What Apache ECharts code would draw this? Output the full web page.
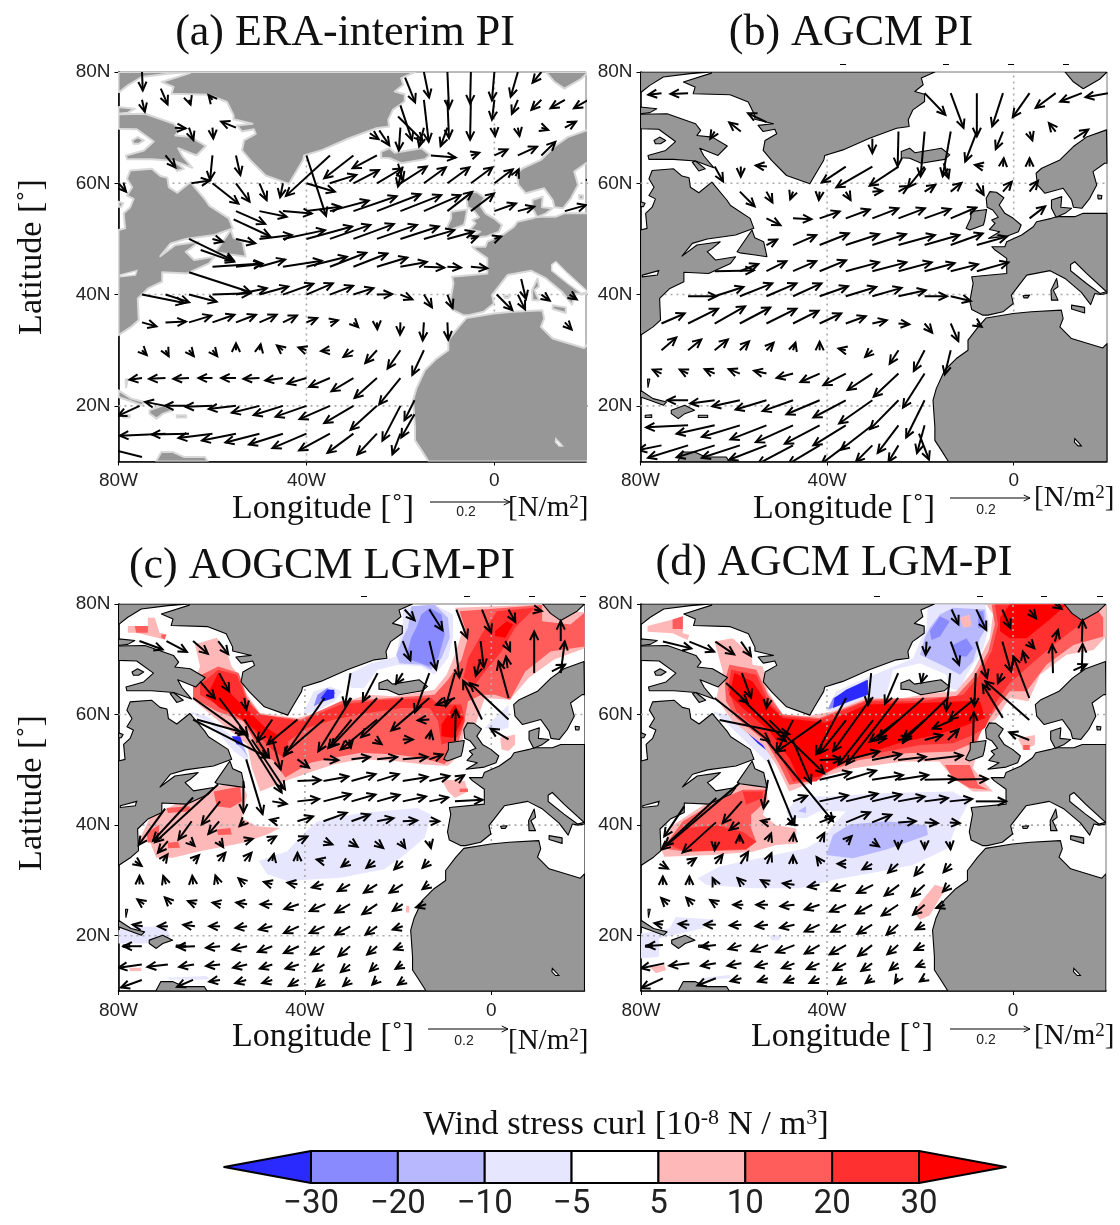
<!DOCTYPE html>
<html><head><meta charset="utf-8">
<script src="https://cdn.jsdelivr.net/npm/echarts@6/dist/echarts.min.js"></script>
<style>html,body{margin:0;padding:0;background:#fff}#c{width:1120px;height:1225px}</style></head>
<body><div id="c"></div>
<script>
// ---------- land outlines, [lon, lat] ----------
const greenland=[[-64.8,80],[-64.8,79.8],[-70.8,78.2],[-68.3,77.3],[-68.7,76.1],[-60.8,75.9],[-56.9,74.6],[-55.5,72.2],[-55.5,71.5],[-51.5,70.7],[-54.8,70.4],[-53.7,69.3],[-51.2,69.7],[-50.8,68.9],[-53.3,67.7],[-53.7,65.9],[-51.9,64.1],[-48.7,61.4],[-43.7,59.9],[-42.6,61.5],[-40.7,64.2],[-40.5,65],[-36.6,66],[-30.9,68.1],[-25.1,69.9],[-22.4,70.2],[-22.6,71.4],[-21.6,73.2],[-19.1,74.7],[-19.1,76],[-21.2,76.5],[-19.4,77.7],[-19.8,78.9],[-16.9,80]];
const ellesmere=[[-80,80],[-64.8,80],[-69.4,79.7],[-75.1,79.1],[-78,77.6],[-79.8,76.4],[-80,76.4]];
const devon=[[-80,73.7],[-76.5,73.4],[-78,72.7],[-80,72.5]];
const baffin=[[-80,72.4],[-74.3,72.5],[-68.2,70.7],[-67.1,69.5],[-67.9,68.6],[-64.6,68.3],[-61.4,66.7],[-63.4,65],[-67.3,66.3],[-66.4,64.9],[-64.3,62.8],[-68.2,64],[-72.9,64.3],[-78.2,64.3],[-78.4,65],[-74.6,65.9],[-72.5,67.5],[-76.1,69.7],[-80,69.8]];
const baffinIsle=[[-77.1,67.7],[-75.9,68.3],[-74.6,67.7],[-75.7,67.1],[-76.8,67.1]];
const baffinSouth=[[-68.9,63.8],[-68.2,64],[-66.1,62.6],[-67.5,62.2]];
const northAmerica=[[-77.5,62.3],[-72.9,62.6],[-71.1,61.3],[-69.6,61],[-69.3,59.3],[-67.5,58.3],[-64.7,60.2],[-61.5,57],[-60.7,56],[-56.5,53.7],[-55.7,51.9],[-59.6,50.7],[-65.7,50],[-68.9,49.2],[-71.1,46.9],[-67.9,48.9],[-62.9,49.5],[-64.6,48.3],[-65.7,47.7],[-63.9,46.2],[-59.6,46.8],[-60.7,45.6],[-65.4,43.8],[-70.7,44],[-70.7,42.3],[-73.7,41.1],[-75.9,39.3],[-75.7,35.4],[-77.3,34.2],[-80,32.7],[-80,51.6],[-78.6,51.9],[-78.9,54.6],[-77.5,55.7],[-76.8,57.2],[-78.2,57.8],[-77.1,59.3],[-78.2,60.8]];
const hudsonIsle=[[-80,56.7],[-79,56.4],[-79.4,55.8],[-80,55.8]];
const newfoundland=[[-59.3,47.7],[-56.1,51.6],[-55.5,50.2],[-53.6,49.5],[-52.9,46.8],[-55.4,47.1],[-58.7,47.5]];
const iceland=[[-24.1,65.7],[-22.3,66.3],[-21.2,65.5],[-15.5,66.3],[-13.7,65.1],[-14.8,64.3],[-19.8,63.6],[-22.3,64.5],[-24.1,64.6]];
const scandinavia=[[19.9,69.6],[15.6,68.3],[12.8,66.6],[9.9,64.2],[6,62.7],[4.8,61.8],[5.1,59.7],[6.7,58.2],[10.6,59.1],[12.4,57],[12.8,55.7],[14.6,55.5],[16.3,57.3],[17.8,59.7],[17,62.1],[19.5,63.6],[20,63.6]];
const denmark=[[8.1,57],[10.3,57.6],[10.1,55.7],[12.4,55.5],[11,54.6],[9.1,53.9],[8.1,55.5]];
const gotland=[[18,57.9],[18.9,57.8],[18.8,57.2],[18.1,57.2]];
const europe=[[20,54.6],[14.9,54.6],[13.1,54],[9.2,54],[8.1,53.7],[4.9,53.1],[4.2,52.2],[1.7,50.7],[-1.5,49.5],[-1.9,48.6],[-4.7,48.6],[-4,48],[-1.5,46.5],[-1.5,43.8],[-9,43.2],[-8.7,42],[-9.4,38.8],[-9,37.3],[-6.6,36.3],[-5.5,36.3],[-2.3,36.9],[-0.1,38.4],[-0.5,39.9],[2.8,43.5],[7.8,44.3],[11,42.9],[14.5,40.4],[16.5,38.2],[17.4,40.2],[18.6,40],[20,40.2]];
const sicily=[[12.4,38.1],[15.2,37.7],[15.2,36.7],[12.4,37.4]];
const sardinia=[[9.2,42.9],[9.5,41.4],[8.5,40.8],[9.5,39],[8.1,39],[8,40.8]];
const balearic=[[2,39.8],[3.4,39.9],[3,39.4],[2.2,39.4]];
const africa=[[-5.9,35.8],[-0.1,36.6],[3.8,36.9],[10.2,37.2],[10.6,35.7],[9.9,34.2],[12.4,32.1],[19.1,30.4],[20,31.2],[20,10],[-14,10],[-15.5,12],[-16.9,13.8],[-16.9,16.2],[-17.3,21],[-16.6,23.1],[-14.8,26.4],[-12.3,28.5],[-9.8,30],[-9.8,31.8],[-7.6,34.2]];
const britain=[[-5.9,57.3],[-5.1,58.5],[-3.7,58.4],[-2.1,57.4],[-3.1,56.1],[-1.9,54.6],[-0.1,53.7],[1.6,52.5],[1,51.3],[-1.5,50.5],[-5.4,50.1],[-3,51.3],[-5.2,51.7],[-4,52.8],[-4.7,53.4],[-3.3,53.9],[-4.5,55.2],[-5.7,55.7]];
const ireland=[[-10.2,51.9],[-9.2,53.7],[-9.2,54.9],[-5.8,55.3],[-6.2,53.4],[-6.5,52.5],[-9.4,51.6]];
const svalbard=[[11,80],[20,80],[18.4,78.7],[14.9,77],[12.7,78.3]];
const cuba=[[-80,22.8],[-77.3,21.3],[-74.4,20.7],[-75.1,20.1],[-78,21],[-80,21.6]];
const hispaniola=[[-73.4,19.2],[-70.5,20.1],[-68.4,19.2],[-70.5,18.6],[-71.9,17.7],[-73.4,18.6]];
const jamaica=[[-79,18.3],[-77.6,18.4],[-77.6,17.9],[-79,17.9]];
const puertoRico=[[-67.6,18.3],[-65.6,18.3],[-65.6,17.9],[-67.6,17.9]];
const bahamas=[[-78.5,24.8],[-78,24.8],[-78.4,23.3]];
const southAmerica=[[-72,10],[-70.9,11.7],[-68.4,11.7],[-66,10.8],[-61.6,10.8],[-61,10]];
const landList=[greenland,ellesmere,devon,baffin,baffinSouth,northAmerica,newfoundland,iceland,scandinavia,europe,denmark,gotland,sicily,sardinia,balearic,africa,britain,ireland,svalbard,cuba,hispaniola,jamaica,puertoRico,bahamas,southAmerica,hudsonIsle,baffinIsle];
const adriatic=[[12.2,45.4],[13.1,45.9],[15.6,43.8],[19.9,40.5],[18.5,40.2],[15.6,42],[12.2,44.3]];
const lakeChad=[[13.1,14.1],[14,13.3],[14.5,12.8],[13.8,12.8],[13,13.5]];
const greatLake=[[-79.6,43.5],[-76.1,44.3],[-76.4,43.5],[-79.6,43.2]];
const waterList=[adriatic,lakeChad,greatLake];

// ---------- wind stress curl contours: [level in 1e-8 N/m3, outline] ----------
const curlC=[
[-7,[[-19,79.3],[-12.2,79.9],[-8.2,78.1],[-8.2,73.9],[-9.3,70.2],[-12.2,67.2],[-15,68.7],[-20,69],[-24.4,68.1],[-27.3,64.8],[-30.1,64.8],[-30.9,67.2],[-25.8,69.3],[-20.4,70.5],[-19.7,73.9],[-19,75.7]]],
[-15,[[-17.2,79.6],[-12.2,79.9],[-9.3,77.5],[-8.9,73.9],[-10.7,70.2],[-12.9,68.1],[-15,69],[-19.7,69.3],[-20.4,70.8],[-19,73.9],[-17.9,75.7]]],
[-25,[[-16.1,75.7],[-15,78.1],[-13.2,79.3],[-10.7,78.1],[-10,74.5],[-11.4,70.2],[-13.2,68.7],[-18.3,70.2],[-17.2,73.9]]],
[-7,[[-40.2,60.6],[-38.1,64.2],[-34.5,65.1],[-32,64.2],[-33.7,62.4],[-37.3,60.6],[-40.2,60]]],
[-25,[[-38.1,61.5],[-37.3,63.6],[-35.2,64.8],[-33.4,63.9],[-35.9,62.4]]],
[-35,[[-36.6,63],[-35.2,64.5],[-33.7,64.5],[-33.7,63],[-35.9,62.4]]],
[-7,[[-64.7,60.6],[-61.1,59.7],[-55.3,55.8],[-52.1,52.2],[-52.4,51.6],[-55.3,53.4],[-60.4,58.5],[-64,60]]],
[-7,[[-49.9,33.5],[-43.8,35.3],[-40.2,38.6],[-37.3,40.7],[-28,42.2],[-15.8,43.1],[-12.9,41.9],[-14.3,37.7],[-19.4,34.1],[-23,32],[-32.3,30.5],[-43.8,29.9],[-48.1,31.1]]],
[-7,[[-80,21],[-76.2,21.6],[-69.7,21.6],[-68.6,19.2],[-74.6,18.6],[-80,18.6]]],
[-7,[[-69.7,12.4],[-61.1,12.7],[-60.4,12.1],[-69,12.1]]],
[-7,[[-1.4,57.6],[3.7,61.8],[3.7,57.6],[0.8,57]]],
[7,[[-63.6,72.7],[-58.9,73.9],[-56.4,70.5],[-55.7,68.7],[-54.2,67.2],[-52.4,63.6],[-49.6,60.3],[-41.7,59.4],[-38.8,60],[-32.3,62.1],[-26.5,63.6],[-20.8,63.3],[-12.2,64.5],[-9.6,67.2],[-7.8,70.8],[-6,75.7],[-7.8,79.3],[10.9,79.9],[20,78.4],[20,72],[13.4,69.9],[8,66.6],[4,62.7],[-1.4,63],[-3.5,57.9],[-5.7,57.6],[-6.8,52.8],[-9.3,50.7],[-15,51],[-20.8,51.6],[-28,51.9],[-33.7,51],[-38.1,49.8],[-43.8,48.1],[-49.6,46.1],[-51.4,50.4],[-52.4,54.6],[-56.8,57.6],[-64,62.7],[-64,65.4],[-62.5,68.7]]],
[15,[[-6.8,78.7],[10.9,79.8],[10.9,76.9],[17,76.3],[20,78.4],[20,72.3],[12.7,71.4],[7.3,67.8],[4,62.7],[0.8,63.6],[-2.1,63.6],[-5,62.4],[-6,57.9],[-7.5,54],[-10,51],[-15,52.2],[-20.8,52.8],[-28,53.1],[-33.7,52.2],[-38.8,51.3],[-44.2,48.6],[-46.7,51.6],[-49.6,53.4],[-53.2,58.8],[-58.9,60.6],[-64,63],[-64,65.4],[-62.2,67.2],[-58.6,68.7],[-54.2,67.5],[-52.4,63],[-49.6,60],[-40.9,59.1],[-32.3,62.4],[-21.5,63],[-12.2,63.6],[-9.3,66.3],[-6.4,69.9],[-5,73.9]]],
[25,[[-6,66.6],[-5,70.2],[-2.1,74.5],[1.2,78.7],[9.4,79.3],[5.1,75.7],[2.2,71.4],[-1.4,67.8],[-3.5,65.4]]],
[25,[[-62.5,65.4],[-58.6,68.1],[-54.6,67.2],[-52.4,62.4],[-49.6,60],[-40.9,58.8],[-32.3,61.8],[-23,62.7],[-12.9,63],[-11.4,61.8],[-6.4,61.8],[-5.7,58.8],[-7.8,55.2],[-10.7,54.6],[-11.4,58.8],[-13.2,61.2],[-19.4,61.2],[-26.5,60.3],[-33.7,59.1],[-39.5,57.6],[-43.5,55.2],[-44.5,52.2],[-46.7,53.4],[-50.3,56.4],[-53.9,59.4],[-58.9,61.8],[-62.5,63.6]]],
[35,[[-61.1,63.3],[-58.6,67.5],[-55.7,63.6],[-52.4,60.9],[-48.8,57.9],[-46,56.4],[-46.7,54.9],[-50.3,57],[-53.9,59.4],[-58.2,61.2]]],
[35,[[-10.7,58.2],[-7.8,61.8],[-6,59.4],[-8.2,55.8],[-10.7,56.1]]],
[35,[[0.8,75.1],[3.3,76.9],[4.7,76.3],[3,73.9],[0.8,74.2]]],
[7,[[-78,76],[-73.7,76],[-73.7,77.5],[-72.2,77.5],[-71.2,74.8],[-69.7,74.5],[-70.1,73.6],[-76.2,74.8],[-78,74.8]]],
[15,[[-76.5,76],[-73.7,76],[-73.7,74.8],[-76.2,74.8]]],
[15,[[-70.8,74.5],[-69.7,74.5],[-70.1,73.6],[-70.8,73.9]]],
[7,[[-75.8,36.8],[-73.3,41.3],[-65.4,44.9],[-60.4,46.7],[-53.9,48],[-52.4,45.5],[-53.5,41.3],[-50.3,39.8],[-45.3,39.5],[-48.1,38.3],[-53.2,36.8],[-62.5,35.3],[-68.3,34.1],[-71.9,34.1],[-73.3,37.1]]],
[15,[[-59.6,46.1],[-53.9,47],[-53.5,44.3],[-56,43.1],[-58.9,43.4]]],
[15,[[-69.4,36.8],[-67.2,37],[-66.8,35.9],[-69.4,35.8]]],
[15,[[-58.9,39.2],[-56,39.5],[-55.7,38.3],[-58.6,38.2]]],
[15,[[-74,38.6],[-71.2,40.1],[-71.5,37.1],[-73.7,36.8]]],
[15,[[-69.7,43.1],[-64.7,43.4],[-64.7,42.5],[-69.4,42.2]]],
[7,[[-77.6,14.2],[-75.1,14.2],[-75.1,13.6],[-77.6,13.6]]],
[7,[[-18.3,25.4],[-17.6,25.4],[-17.6,24.2],[-18.3,24.2]]],
[7,[[-10.7,48.3],[-5.7,48],[-5,46.1],[-7.8,44.9],[-9.3,46.1]]],
[15,[[-6.8,46.6],[-5,46.6],[-5,46],[-6.8,46]]],
[7,[[1.9,55.8],[5.1,56.4],[5.1,54.6],[3.7,53.4],[2.2,53.7]]],
[-15,[[-55.7,55.8],[-53.9,55.8],[-52.1,52.2],[-53.2,53.4]]],
[-35,[[-55.7,56.1],[-53.9,56.1],[-53.2,54.6],[-54.6,54.6]]]
];
const curlD=[
[-7,[[-18.3,79.9],[-6,79.9],[-5,76.3],[-6.4,72],[-10,67.2],[-11.4,64.2],[-13.6,64.8],[-14.3,67.2],[-20,69.3],[-22.9,68.7],[-25.8,68.1],[-27.2,63.6],[-30.1,62.4],[-31.5,66.6],[-24.7,69],[-21.5,70.2],[-19.7,73.8],[-18.6,75.7]]],
[-15,[[-17.9,75.7],[-15.7,78.1],[-12.9,79.3],[-6,79],[-5.7,75.7],[-7.1,73.8],[-8.6,69.6],[-11.4,67.2],[-14.7,68.7],[-20,70.8],[-19,73.8]]],
[-25,[[-17.9,75.1],[-15.7,77.8],[-13.6,76.9],[-15.7,74.1],[-17.5,73.5]]],
[-25,[[-12.9,72.6],[-10,73.8],[-8.6,72],[-10,70.5],[-12.2,70.5]]],
[-25,[[-7.5,78.7],[-6.4,78.7],[-6,75.7],[-7.5,75.7]]],
[7,[[-11.4,77.5],[-9.3,78.1],[-8.9,76],[-10.7,75.7]]],
[-7,[[-40.2,60.6],[-38,64.2],[-32.3,66.3],[-28,67.8],[-27.2,63.6],[-31.5,63],[-38.7,60.6]]],
[-25,[[-39.8,60.9],[-38.7,63],[-34.4,64.8],[-31.5,66.3],[-31.2,63.6],[-35.9,62.1]]],
[-35,[[-38.7,61.2],[-38.4,63],[-35.9,64.5],[-31.2,66.3],[-31.2,63.6],[-35.2,62.4]]],
[-7,[[-64.6,60.6],[-60.3,59.7],[-54.5,56.3],[-51.3,50.9],[-53.1,51.5],[-56.7,54.5],[-61.7,58.5]]],
[-35,[[-58.5,57.9],[-54.5,56.3],[-53.1,53.6],[-54.9,54.8]]],
[-7,[[-63.5,65.4],[-62,66],[-61.7,62.4],[-63.5,63.6]]],
[-7,[[-48.8,42.5],[-45.9,45.2],[-40.2,45.2],[-27.2,45.8],[-12.9,46.1],[-9.3,44.3],[-12.2,40],[-14,35.8],[-21.5,32.8],[-28.7,31.6],[-38.7,30.1],[-45.9,28.6],[-56,28.6],[-66,29.2],[-67.8,30.4],[-63.1,32.5],[-53.1,34.3],[-44.5,35.8],[-40.9,37.6],[-38.7,40],[-35.9,42.5],[-41.6,42.5],[-44.5,41.3],[-48.1,41.3]]],
[-15,[[-40.2,34.6],[-38.7,38.2],[-35.2,40.1],[-27.2,40.7],[-18.6,40],[-18.3,38.2],[-27.2,35.6],[-34.4,34]]],
[-15,[[-46.3,42.5],[-44.5,43.4],[-44.5,42.2]]],
[-7,[[-80,15.9],[-80,20.4],[-73.9,21.3],[-72.5,23.4],[-63.8,22.9],[-66.9,21.3],[-76.1,19.5],[-76.1,16.2]]],
[-7,[[-52.4,20.1],[-49.9,20.1],[-50.2,19.2],[-52,19.2]]],
[-7,[[-67.4,12.3],[-61,12.9],[-60.6,12.3],[-66.7,12]]],
[7,[[-64.2,73.2],[-60.3,73.8],[-56.3,70.8],[-56,69],[-53.8,68.7],[-52.7,64.2],[-49.5,60],[-44.5,59.7],[-38.7,60.6],[-31.5,63],[-23.6,63],[-17.2,63.9],[-12.2,64.2],[-8.6,67.8],[-5,73.8],[-4.3,78.1],[-5.7,79.9],[20,80],[20,74.1],[17.3,71.7],[11.5,70.8],[5.8,67.2],[3.3,62.4],[-0.7,63],[-3.5,59.4],[-7.1,56.9],[-7.9,52.7],[-8.6,50.3],[-5.7,47.3],[-4.3,46.1],[-8.6,46.1],[-12.9,48.5],[-15.8,51.5],[-23.6,51.5],[-34.4,50.3],[-39.4,49.1],[-44.5,47.3],[-48.1,46.1],[-50.9,50.9],[-53.8,54.5],[-60.3,58.8],[-63.8,63],[-62.4,67.8]]],
[15,[[-62,66],[-61,69],[-55.2,68.1],[-52.7,63.6],[-49.5,60],[-41.6,59.4],[-31.5,62.7],[-20,63],[-12.2,63.3],[-8.6,66.6],[-5.3,71.4],[-3.9,76.3],[-4.6,79.9],[17.3,79.9],[19.4,77.5],[19.4,74.1],[13,72.6],[7.2,69],[2.9,64.2],[-0.7,64.2],[-3.5,61.2],[-6.4,57.6],[-7.9,55.1],[-12.9,53.3],[-22.9,53],[-33,51.8],[-38.7,50],[-43.7,47.9],[-48.1,47.3],[-50.2,50.9],[-53.1,55.1],[-59.5,59.4],[-61.7,62.4]]],
[25,[[-61.3,64.5],[-60.6,68.1],[-55.2,67.2],[-52.7,62.4],[-49.5,59.7],[-41.6,59.1],[-31.5,62.4],[-20,62.4],[-10.7,63.6],[-7.5,66.9],[-4.6,71.4],[-3.2,76.3],[-3.9,79.9],[15.8,79.9],[14.4,76.3],[8.7,72.6],[2.9,68.4],[-0.7,65.7],[-3.5,62.4],[-6,57.6],[-8.6,56.3],[-12.9,54.8],[-20,54.5],[-27.2,53.3],[-34.4,52.1],[-38.7,50.6],[-42.3,47.9],[-47.3,47.9],[-49.5,51.5],[-53.1,55.7],[-59.5,60.6]]],
[35,[[-61,63.6],[-59.9,67.5],[-56,66],[-52.7,61.8],[-49.5,59.4],[-40.2,58.5],[-31.5,61.8],[-20,62.1],[-10.7,62.4],[-7.1,62.4],[-6,59.4],[-10.7,57.9],[-16.5,56.3],[-23.6,55.1],[-30.1,53.3],[-35.9,51.5],[-41.6,48.8],[-45.9,48.2],[-48.1,52.1],[-52.4,57],[-58.1,61.2]]],
[35,[[-2.8,77.5],[-0.7,79.9],[11.5,79.9],[7.9,77.2],[2.9,73.8],[-0.7,73.8],[-2.8,75.1]]],
[7,[[-78.6,76],[-73.2,77.2],[-71,77.8],[-71,74.7],[-69.6,74.4],[-70,73.5],[-73.2,74.7],[-78.6,75]]],
[15,[[-73.2,77.2],[-71,77.8],[-71,75.5],[-73.2,75.5]]],
[7,[[-75.7,35.8],[-73.2,40],[-65.3,44.3],[-58.1,47.6],[-53.1,47.6],[-52.7,44.3],[-53.8,41.9],[-50.9,40],[-46.6,39.4],[-46.6,36.7],[-50.9,36.4],[-56,35.2],[-64.6,34.6],[-75,34.3]]],
[15,[[-75.3,35.8],[-71,40.7],[-63.1,44.6],[-58.1,46.4],[-53.1,46.4],[-53.1,44.3],[-56.3,41.9],[-56.3,39.4],[-55.2,37],[-57.4,35.5],[-70.3,35.2]]],
[25,[[-73.9,36.4],[-71,39.4],[-63.8,40],[-58.1,38.8],[-55.2,37],[-57.4,35.7],[-70.3,35.2]]],
[25,[[-58.1,46.1],[-53.8,46.1],[-53.8,44.9],[-57.4,43.7]]],
[7,[[-21.5,24.4],[-20,25.9],[-16.8,29.2],[-14.3,28.6],[-15.7,26.8],[-17.9,23.7],[-20,22.9]]],
[7,[[-78.2,14.4],[-75,14.7],[-74.6,13.8],[-76.8,13.2]]],
[7,[[1.1,55.7],[4.7,56.3],[4.7,54.5],[2.2,53.6]]],
[15,[[2.2,54.5],[3.6,54.5],[3.6,53.6],[2.2,53.6]]],
[15,[[-14.7,50.9],[-9.3,50.9],[-7.5,47.3],[-5.3,46.4],[-9.3,46.7],[-12.9,48.5]]]
];

// ---------- wind stress, rows of [lat, lon,u,v, lon,u,v, ...], u/v in 0.001 N/m2 ----------
const windA=[
[80,-75,2,-46,-15,13,-64,-10,4,-91,-5,-2,-79,0,-6,-71,5,-18,-62,10,-22,-27],
[79,-19,25,-62],[77,-71,17,-39],
[75,-75,7,-30,-65,4,-12,-60,-10,12,-15,12,-105,-10,4,-96,-5,-2,-100,0,-6,-50,5,-15,-35,10,-25,-25,15,-36,-21,20,-36,-21],
[74,-20,29,-87],[72,-20.5,62,-61],
[70,-68,27,-2,-65,11,-31,-60,2,-27,-55,-37,15,-20,-4,-57,-15,-12,-47,-10,-17,-46,0,2,-21,5,4,-21,10,17,-6,15,28,15],
[69.5,-24.5,25,-37],[69,-26.5,22,-15],
[65,-70,25,-30,-60,-6,-61,-55,11,-49,-40,49,-151,-35,-110,-101,-30,-73,-57,-25,-61,-32,-13.5,62,-5,-5,21,7,0,33,15,5,48,22,10,35,34],
[63.5,-20.5,12,-41],[63,-19.5,-12,-50],[61.3,4.5,8,17],
[60,-80,19,-21,-64.5,46,7,-60,65,-51,-55,34,-46,-50,18,-42,-45,-7,-35,-40,71,-21,-35,66,21,-30,64,33,-25,62,37,-20,66,42,-15,55,40,-10,55,40,-5,54,40,0,46,35,20,17,6],
[55,-55,73,-32,-50,68,-14,-45,72,-6,-40,85,11,-35,97,26,-30,108,37,-25,109,42,-20,102,40,-15,92,40,-10,62,48,-5,58,44,0,54,19,5,41,11,15,53,15],
[53.5,-55.5,91,-42],
[50,-65,112,-54,-60,26,-7,-55,48,-11,-50,81,10,-45,105,22,-40,114,31,-35,101,35,-30,101,37,-25,100,35,-20,96,31,-15,76,22,-10,66,18,-5,17,6,0,17,6],
[48,-62.5,83,-29],
[45,-60,125,8,-55,65,7,-50,64,18,-45,97,15,-40,101,25,-35,91,35,-30,85,33,-25,76,23,-20,66,12,-15,51,-2,-10,34,-2,-5,41,-4],
[44,-65,154,-50],[42.8,5.7,12,-50],
[40,-75,106,-21,-70,59,-19,-65,69,-18,-60,94,3,-55,77,16,-50,72,20,-45,76,27,-40,66,28,-35,58,22,-30,50,16,-25,38,1,-20,30,-12,-15,20,-32,-10,13,-34,5,18,-37,0.5,39,-39,10,21,-15,16,18,-12],
[35,-75,36,-10,-70,51,2,-65,56,17,-60,55,19,-55,50,19,-50,43,19,-45,35,17,-40,27,11,-35,20,5,-30,12,-12,-25,1,-17,-20,-1,-31,-15,-3,-45,-10,2,-43,15,17,-18],
[30,-75,12,-12,-70,8,-15,-65,12,-15,-60,12,-15,-55,0,17,-50,3,15,-45,-15,12,-40,-20,7,-35,-22,-2,-30,-25,-17,-25,-29,-32,-20,-32,-46,-15,-29,-62],
[25,-75,-31,-4,-70,-41,-2,-65,-39,-2,-60,-35,0,-55,-37,0,-50,-40,-2,-45,-44,-6,-40,-48,-14,-35,-52,-22,-30,-55,-33,-25,-56,-50,-20,-53,-66],
[21,-17,-25,-50],
[20,-75.5,-54,-25,-70,-51,10,-65,-60,0,-60,-68,-2,-55,-68,-8,-50,-69,-17,-45,-73,-23,-40,-77,-27,-35,-76,-33,-30,-73,-43,-25,-66,-60,-20,-45,-87],
[18.5,-17,-33,-58],
[15,-70,-114,-5,-65,-93,-2,-60,-85,-11,-55,-85,-17,-50,-85,-22,-45,-85,-27,-40,-85,-36,-35,-77,-42,-30,-65,-48,-25,-49,-52,-20,-20,-52],
[10.8,-75,-83,21]
];
const windB=[
[76.2,-75.5,-33,-4,-69.8,-44,-2,-19.1,52,-54,-13.5,32,-87,-7.9,0,-108,-2.3,-27,-83,3.4,-42,-60,9,-50,-37,14.6,-54,-21,20.2,-56,-10],
[71,-53,-46,22],
[69.3,-64.1,-11,-18,-58.5,-29,23,-24.7,-2,-87,-19.1,-10,-112,-13.5,-20,-112,-7.9,-29,-75,-2.3,-18,-44,3.4,7,-22,9,-17,21],
[68,-30.3,0,-36,12.9,36,23],
[63.6,-15,12,-37],
[63,-64.1,21,-37,-58.5,0,-25,-52.9,-28,3,-36,-60,-40,-30.3,-90,-52,-24.7,-72,-48,-19.1,-42,-52,-6.5,-21,4,-2.3,2,21,3.4,0,21],
[60,-7.9,17,-29],
[58.5,-58.7,37,-37,-53,15,-27,-47.3,-7,-19,-41.6,-2,-21,-36,12,-21,-30.3,25,2,-24.7,25,14,-19.1,27,17,-13.5,27,22,-2.3,22,25,3.4,21,27],
[53.7,-53,35,-17,-47.3,46,-2,-41.6,50,17,-36,60,22,-30.3,65,25,-24.7,66,25,-19.1,65,23,-13.5,64,27,3.4,39,30],
[48.9,-53,27,14,-47.3,58,25,-41.6,73,29,-36,83,27,-30.3,84,27,-24.7,91,25,-19.1,87,25,-13.5,80,29,-7.9,75,21],
[44.2,-64.1,98,2,-58.7,46,18,-53,50,25,-47.3,58,25,-41.6,66,27,-36,83,22,-30.3,85,22,-24.7,83,22,-19.1,75,20,-13.5,68,17,-7.9,79,22],
[39.7,-69.8,71,0,-64.1,72,23,-58.7,81,32,-53,75,32,-47.3,71,32,-41.6,71,25,-36,76,23,-30.3,73,21,-24.7,68,15,-19.1,56,0,-13.5,50,-12],
[34.8,-75.5,58,25,-69.8,75,37,-64.1,76,43,-58.7,76,40,-53,75,37,-47.3,64,32,-41.6,54,25,-36,50,18,-30.3,36,8,-24.7,27,-2,-19.1,19,-23,-13.5,19,-44,-7.9,12,-8],
[30,-75.5,37,32,-69.8,33,27,-64.1,33,27,-58.7,23,22,-53,18,19,-47.3,6,19,-41.6,0,21,-36,-18,4,-30.3,-18,-17,-24.7,-22,-34,-19.1,-27,-52,-13.5,-15,-61],
[25.8,-75.5,-22,10,-69.8,-21,10,-64.1,-25,11,-58.7,-28,11,-53,-31,7,-47.3,-41,-11,-41.6,-48,-21,-36,-56,-29,-30.3,-62,-41,-24.7,-62,-58,-19.1,-54,-85],
[21,-69.8,-52,0,-64.1,-61,-8,-58.7,-69,-15,-53,-77,-23,-47.3,-76,-27,-41.6,-83,-35,-36,-81,-43,-30.3,-83,-58,-24.7,-71,-72,-19.1,-46,-93],
[16.5,-69.8,-105,-5,-64.1,-95,-21,-58.7,-95,-29,-53,-90,-35,-47.3,-93,-42,-41.6,-87,-46,-36,-81,-50,-30.3,-79,-61,-24.7,-52,-69,-19.1,-19,-69],
[15,-20.3,25,-65],
[12.9,-75.5,-58,-12,-69.8,-100,-31,-64.1,-95,-30,-58.7,-95,-31,-53,-93,-36,-47.3,-89,-47,-41.6,-79,-47,-36,-61,-46,-30.3,-41,-41,-24.7,-25,-41]
];
const windC=[
[79,-18.6,25,-27,-13.3,33,-52,-7.5,27,-71,-2,23,-58,3.7,17,-31,9.2,19,-4],
[73.3,-75.5,58,-21,-69.7,51,-27,-64,37,-32,-58.6,25,-33,-19,19,-48,-13.3,17,-71,-7.8,11,-91,-2.3,8,-66,3,12,-25,14.9,0,50],
[70,-2.3,-12,-41],
[68.4,3.5,-4,29],
[67.8,13,33,17],
[67.5,-58.4,25,-46,-30.2,-14,-81,-24.4,-37,-71,-19,-17,-27,-13.3,-36,-98,-7.8,-23,-83,9.2,0,104,14.9,10,79],
[66,-62.5,37,-43],
[63,-64,128,-91,-58.4,71,-94,-53,5,-29,-35.8,-101,-145,-30,-83,-133,-24.5,-116,-123,-19,-104,-98,-13.3,-95,-81,-7.8,-47,-17,3.7,-25,91],
[59.1,-64,188,-95,-63.2,125,-35,-53,62,-95,-47,-37,-54,-41.6,-75,-62,-35.9,-100,-87,-30,-58,-71,-24.5,-91,-75,-13.3,-29,-2,-2,-47,97,3.7,-97,91],
[56.4,-52.8,91,-145],
[55.5,-51.4,83,-125,-47,21,-75,-30.5,4,-21,-25,17,-12,-19,25,0,-13.3,4,21,3.7,-45,27],
[55.2,-7.8,2,79],
[51.9,-52.6,41,-137,-41.6,29,-21,-36,37,-2,-30,46,6,-24.5,50,6,-19,62,6,-13.3,33,12],
[48,-53.2,0,-79,-41.6,58,2,-36,62,11,-30,60,17,-24.5,54,17,-19,62,10,-13.3,50,12,-7.8,23,14],
[47.4,-58.6,-158,-145],
[45,-64,-100,-108],
[44.3,-58.2,-46,-58,-47,36,-6,-41.6,54,6,-36,68,18,-30,60,17,-24.5,56,16,-19,58,12,-13.3,47,10,-7.8,69,4],
[43,-70,-66,-91],
[40.7,-64.3,-33,-46,-58.4,-27,-32,-53,-12,-12,-46,-17,4,-41.6,39,12,-36,58,21,-30,46,17,-24.5,41,8,-19,36,2,-13.3,25,0],
[37.1,-69.4,-25,-29,-64.7,12,-12,-58.4,10,-15,-53,21,6,-48,21,12,-41.6,25,12,-36,22,-8,-30.5,21,-14,-25,21,-17,-19.5,12,-17,-13.3,4,-17],
[33.5,-76.5,17,-12,-70.5,12,17,-64,15,15,-58.6,18,21,-53,18,21,-47,4,18,-41.6,0,21,-36,-17,4,-30.5,-19,-14,-25,-21,-17,-19,-21,-21,-13.3,-17,-17],
[29.3,-75.5,0,21,-69.8,-7,21,-64,-2,21,-58.6,-7,22,-52.8,-17,15,-47,-21,6,-41.6,-25,4,-36,-29,-8,-30.3,-31,-17,-24.5,-33,-21,-19,-33,-21,-13.3,-17,-12],
[25.7,-74.5,-17,12,-68.6,-17,17,-63.3,-21,8,-58,-21,4,-52.4,-27,4,-47,-29,0,-41.3,-36,-12,-35.6,-39,-17,-30.3,-37,-21,-24.5,-37,-25,-19,-25,-17,-14,-25,-8],
[21.7,-74.8,-25,4,-69.4,-25,0,-63.6,-29,4,-58.2,-27,0,-52.4,-29,-4,-47,-33,-8,-41.3,-37,-17,-35.8,-37,-17,-30.3,-37,-21,-24.5,-29,-21,-19,-25,-8],
[18.1,-75,-46,0,-63.6,-44,-2,-58.2,-35,-4,-52.4,-37,-8,-47,-36,-14,-41.3,-37,-17,-35.8,-35,-21,-30.3,-29,-25,-24.5,-25,-21,-19,-21,-8],
[14.8,-75,-58,-8,-69.4,-51,-6,-63.8,-37,-6,-58.2,-35,-4,-52.4,-35,-8,-47,-31,-10,-41.3,-33,-10,-35.8,-28,-17,-30.3,-23,-19,-24.5,-18,-17,-19,-18,-11],
[12,-75,-52,-19,-64,-40,-17,-58.2,-27,-4,-52.6,-27,-8,-47,-25,-8,-41.3,-25,-15,-35.8,-20,-17,-30.3,-17,-15,-24.5,-12,-12,-18.6,-17,-12]
];
const windD=[
[79,-13.2,17,-37,-7.9,25,-51,-2.3,20,-46,3.5,17,-22],[80,9,17,-12],
[73.2,-75.3,71,-17,-69.6,62,-25,-64,47,-32,-58.5,25,-36,-18.6,-2,-33,-13.4,21,-58,-7.9,27,-91,-2.3,22,-75,3.3,15,-17,9,8,29,14.8,2,54],
[69.3,2.8,-8,29],
[68,14.8,2,66,13,33,15],
[67.5,-58.3,23,-62,-30.5,-8,-80,-24.7,-33,-77,-19.2,-6,-23,-13.5,-10,-94,-8,-4,-83,-2.3,-11,-25,8.6,-2,71],
[65.7,-61.7,54,-50],
[63,-64.2,137,-108,-58.5,112,-108,-52.7,-4,-25,-35.9,-75,-141,-30.5,-95,-133,-24.7,-129,-166,-19.2,-114,-100,-14,-112,-108,-8,-66,-54,3.5,-40,104],
[59.4,-2.2,-50,83],
[59,-63.1,174,-35,-52.4,137,-133,-47.3,-41,-79,-41.2,-112,-79,-35.9,-66,-83,-30.1,-87,-112,-24.7,-71,-54,-19,-54,-46,-13,-50,-21,3.5,-110,97],
[55.4,-53,166,-203,-47.4,46,-108,-30.5,37,4,-24.7,29,4,-19,44,12,-14,27,27,3.5,-50,19],
[55,-8.6,2,75],
[51.8,-52.7,66,-162,-41.6,54,2,-35.9,83,21,-30.3,73,14,-24.7,69,8,-19,95,11],
[48.2,-52.7,-11,-71,-41.6,79,19,-35.9,75,23,-30.3,77,12,-24.7,75,12,-19,79,2,-13.6,95,2],
[47.6,-58.8,-195,-166],
[44.9,-63.8,-129,-120],
[44.3,-58.3,-48,-54,-47.3,35,14,-41.6,71,15,-35.9,79,19,-30.3,73,17,-24.7,66,12,-19,58,8,-13.6,56,6,-8,76,0],
[43.4,-70.7,-50,-75],
[40.5,-63.9,-83,-75,-58.8,-25,-19,-52.7,-17,4,-47.3,-12,-4,-41.6,37,14,-35.9,60,25,-30.3,48,19,-24.7,44,3,-19,33,-2,-13.6,25,-2],
[37,-64,-2,-21,-58.8,0,17,-52.7,8,21,-47.3,2,21,-41.6,12,22,-35.9,14,14,-30.3,17,-12,-24.7,0,-17,-19,0,-18,-13.6,2,-19],
[33,-76,21,-12,-70,21,14,-64,18,23,-58.6,19,30,-52.9,11,27,-47.3,0,21,-41.2,-12,17,-35.9,-21,0,-30.3,-24,-14,-24.7,-25,-22,-19,-25,-29,-13.3,-19,-21],
[29.2,-75.3,0,21,-69.6,0,21,-63.9,-8,17,-57.8,-17,17,-52.4,-21,12,-47,-29,4,-41.6,-29,-5,-35.9,-37,-14,-30.1,-40,-20,-24.5,-36,-27,-19,-32,-29,-13.6,-17,-17],
[25.6,-74.2,-17,17,-68.8,-17,18,-63.5,-19,12,-58,-25,0,-52.7,-29,0,-47,-35,-4,-41.6,-37,-12,-35.9,-40,-17,-30.3,-41,-22,-24.7,-41,-27,-19,-29,-25,-14.7,-21,-8],
[22,-75.3,-21,4,-69.6,-27,2,-63.9,-29,0,-58.4,-29,-2,-52.7,-31,-4,-47,-36,-8,-41.6,-37,-17,-35.9,-37,-18,-30.3,-37,-23,-24.7,-29,-25,-19,-22,-12],
[18.3,-75.3,-40,-2,-63.9,-37,-4,-58.4,-32,-10,-52.7,-41,-15,-47,-46,-18,-41.6,-37,-21,-35.9,-41,-23,-30.3,-35,-27,-24.7,-27,-23,-19,-25,-12],
[15,-75,-58,-12,-69.6,-50,-6,-63.9,-37,-6,-58.4,-35,-6,-52.7,-31,-8,-47,-31,-12,-41.6,-32,-14,-35.9,-32,-17,-30.3,-27,-19,-24.7,-21,-17,-19,-21,-8],
[12.3,-75.3,-54,-25,-63.9,-46,-18,-58.4,-27,-7,-52.7,-25,-8,-47,-25,-10,-41.6,-25,-12,-35.9,-21,-15,-30.3,-16,-12,-24.7,-8,-12,-19,-12,-8]
];

// ---------- labels ----------
const panelTitles=['(a) ERA-interim PI','(b) AGCM PI','(c) AOGCM LGM-PI','(d) AGCM LGM-PI'];
const latTicks=[20,40,60,80];
const lonTicks=[-80,-40,0];
const curlLevels=[-35,-25,-15,-7,0,7,15,25,35];
const barLabels=['\u221230','\u221220','\u221210','\u22125','5','10','20','30'];
const barColors=['#2a2aff','#8a8aff','#b8b8ff','#e6e6ff','#ffffff','#ffb8b8','#ff5c5c','#ff3030','#ff0000'];
const refStress=200; // 0.001 N/m2 -> the 0.2 reference arrow

// ---------- layout ----------
const PX_PER_UNIT=0.4, serif='"Liberation Serif"', sans='"Liberation Sans"', LAND='#979797';
const panels=[
 {grid:{left:118.5,top:72,width:467.5,height:389.5},xMax:19.5,wind:windA,curl:null,halo:true,
  title:[345,33],lon:[323,509],ref:[430,502,466,512],unit:[508,508],lat:[32,257],marks:[]},
 {grid:{left:640.5,top:72,width:466.5,height:389.5},xMax:20,wind:windB,curl:null,halo:false,
  title:[851,33],lon:[844,509],ref:[950,498,986,510],unit:[1034,498],lat:null,marks:[843,946,1011,1066]},
 {grid:{left:118.5,top:604,width:466,height:387},xMax:20,wind:windC,curl:curlC,halo:false,
  title:[322,566],lon:[323,1037],ref:[428,1029,464,1041],unit:[508,1041],lat:[32,793],marks:[364,467,532,583]},
 {grid:{left:641,top:604,width:465,height:387},xMax:20,wind:windD,curl:curlD,halo:false,
  title:[834,563],lon:[842,1037],ref:[950,1029,986,1040],unit:[1034,1036],lat:null,marks:[877,980,1044,1100]}
];

function levelColor(v){return barColors[curlLevels.indexOf(v)];}
function flatWind(rows){const out=[];rows.forEach(r=>{for(let i=1;i+2<r.length;i+=3)out.push([r[i],r[0],r[i+1],r[i+2]]);});return out;}
function polySeries(list,gi,style,z){
  return {type:'custom',xAxisIndex:gi,yAxisIndex:gi,z:z,clip:true,silent:true,
    data:list.map((p,i)=>[i]),encode:{x:-1,y:-1},
    renderItem:(params,api)=>{
      const it=list[api.value(0)];
      const pts=(Array.isArray(it[0])?it:it[1]).map(p=>api.coord(p));
      const st=typeof style==='function'?style(it):style;
      return {type:'polygon',shape:{points:pts},style:st};
    }};
}
function arrowChildren(x0,y0,x1,y1,size,lw){
  const a=Math.atan2(y1-y0,x1-x0),s=0.45;
  const b1=[x1-size*Math.cos(a-s),y1-size*Math.sin(a-s)],b2=[x1-size*Math.cos(a+s),y1-size*Math.sin(a+s)];
  const st={stroke:'#000',lineWidth:lw,fill:null,lineJoin:'miter'};
  return [{type:'polyline',shape:{points:[[x0,y0],[x1,y1]]},style:st},
          {type:'polyline',shape:{points:[b1,[x1,y1],b2]},style:st}];
}

const option={animation:false,backgroundColor:'#fff',grid:[],xAxis:[],yAxis:[],series:[],graphic:[],title:[]};
const gfx=option.graphic;
panels.forEach((p,i)=>{
  option.grid.push(Object.assign({show:true,borderColor:'#777',borderWidth:1,backgroundColor:'#fff',containLabel:false},p.grid));
  option.xAxis.push({type:'value',gridIndex:i,min:-80,max:p.xMax,interval:40,splitLine:{show:false},
    axisLine:{show:true,onZero:false,lineStyle:{color:'#000',width:1.6}},
    axisTick:{show:true,length:4,lineStyle:{color:'#000'},customValues:lonTicks},
    axisLabel:{customValues:lonTicks,margin:10,fontFamily:sans,fontSize:19,color:'#222',
      formatter:v=>v<0?(-v)+'W':String(v)}});
  option.yAxis.push({type:'value',gridIndex:i,min:10,max:80,splitLine:{show:false},
    axisLine:{show:true,onZero:false,lineStyle:{color:'#000',width:1.6}},
    axisTick:{show:true,length:4,lineStyle:{color:'#000'},customValues:latTicks},
    axisLabel:{customValues:latTicks,margin:8,fontFamily:sans,fontSize:19,color:'#222',padding:[4,0,0,0],formatter:v=>v+'N'}});
  if(p.curl) option.series.push(polySeries(p.curl,i,it=>({fill:levelColor(it[0])}),1));
  // dotted parallels and meridians
  [20,40,60].forEach(la=>option.series.push({type:'line',xAxisIndex:i,yAxisIndex:i,z:2,silent:true,symbol:'none',
    data:[[-80,la],[20,la]],lineStyle:{color:'#aaa',width:1.6,type:[2,4]}}));
  [-40,0].forEach(lo=>option.series.push({type:'line',xAxisIndex:i,yAxisIndex:i,z:2,silent:true,symbol:'none',
    data:[[lo,10],[lo,80]],lineStyle:{color:'#aaa',width:1.6,type:[2,4]}}));
  option.series.push(polySeries(landList,i,p.halo?{fill:LAND,stroke:'#d8d8d8',lineWidth:2,lineJoin:'round'}:{fill:LAND,stroke:'#000',lineWidth:1.1,lineJoin:'round'},3));
  option.series.push(polySeries(waterList,i,p.halo?{fill:'#fff',stroke:'#d8d8d8',lineWidth:1.5}:{fill:'#fff',stroke:'#000',lineWidth:1.1},4));
  option.series.push({type:'custom',xAxisIndex:i,yAxisIndex:i,z:5,clip:true,silent:true,
    data:flatWind(p.wind),encode:{x:0,y:1},
    renderItem:(params,api)=>{
      const c=api.coord([api.value(0),api.value(1)]);
      const x1=c[0]+api.value(2)*PX_PER_UNIT,y1=c[1]-api.value(3)*PX_PER_UNIT;
      return {type:'group',children:arrowChildren(c[0],c[1],x1,y1,9.5,2)};
    }});
  // texts
  gfx.push({type:'text',x:p.title[0],y:p.title[1],z:10,style:{text:panelTitles[i],font:'44px '+serif,fill:'#111',textAlign:'center',textVerticalAlign:'middle'}});
  gfx.push({type:'text',x:p.lon[0],y:p.lon[1],z:10,style:{text:'Longitude [\u02da]',font:'34px '+serif,fill:'#111',textAlign:'center',textVerticalAlign:'middle'}});
  if(p.lat) gfx.push({type:'text',x:p.lat[0],y:p.lat[1],rotation:Math.PI/2,z:10,style:{text:'Latitude [\u02da]',font:'34px '+serif,fill:'#111',textAlign:'center',textVerticalAlign:'middle'}});
  const L=refStress*PX_PER_UNIT,rx=p.ref[0],ry=p.ref[1];
  arrowChildren(rx,ry,rx+L,ry,7,1).forEach(c=>gfx.push(Object.assign({z:10},c)));
  gfx.push({type:'text',x:p.ref[2],y:p.ref[3],z:10,style:{text:'0.2',font:'14px '+sans,fill:'#222',textAlign:'center',textVerticalAlign:'middle'}});
  gfx.push({type:'text',x:p.unit[0],y:p.unit[1],z:10,style:{text:'[N/m{s|2}]',font:'29px '+serif,fill:'#111',textVerticalAlign:'middle',
     rich:{s:{font:'19px '+serif,fill:'#111',verticalAlign:'top',lineHeight:28}}}});
  p.marks.forEach(x=>gfx.push({type:'rect',z:10,shape:{x:x-3,y:p.grid.top-8,width:6,height:1},style:{fill:'#000'}}));
});

// ---------- colour bar ----------
const bi=panels.length;
option.grid.push({left:311,top:1151,width:608,height:32,show:false});
option.xAxis.push({type:'value',gridIndex:bi,min:0,max:7,interval:1,splitLine:{show:false},axisLine:{show:false},axisTick:{show:false},
  axisLabel:{customValues:[0,1,2,3,4,5,6,7],margin:5,fontFamily:'Roboto',fontWeight:400,fontSize:33,color:'#222',formatter:v=>barLabels[v]}});
option.yAxis.push({type:'value',gridIndex:bi,min:0,max:1,show:false});
option.series.push({type:'custom',xAxisIndex:bi,yAxisIndex:bi,z:5,clip:false,silent:true,
  data:barColors.map((c,k)=>[k-1]),encode:{x:-1,y:-1},
  renderItem:(params,api)=>{
    const k=api.value(0),c=barColors[k+1];
    const a=api.coord([k,0]),b=api.coord([k+1,1]);
    const st={fill:c,stroke:'#000',lineWidth:2,lineJoin:'round'};
    if(k<0) return {type:'polygon',shape:{points:[[b[0],a[1]],[b[0],b[1]],[a[0],(a[1]+b[1])/2]]},style:st};
    if(k>6) return {type:'polygon',shape:{points:[[a[0],a[1]],[a[0],b[1]],[b[0],(a[1]+b[1])/2]]},style:st};
    return {type:'rect',shape:{x:a[0],y:b[1],width:b[0]-a[0],height:a[1]-b[1]},style:st};
  }});
gfx.push({type:'text',x:626,y:1125,z:10,style:{text:'Wind stress curl [10{s|-8} N / m{s|3}]',font:'34.5px '+serif,fill:'#111',textAlign:'center',textVerticalAlign:'middle',
  rich:{s:{font:'22px '+serif,fill:'#111',verticalAlign:'top',lineHeight:32}}}});

const chart=echarts.init(document.getElementById('c'),null,{renderer:'canvas'});
chart.setOption(option);
</script></body></html>
